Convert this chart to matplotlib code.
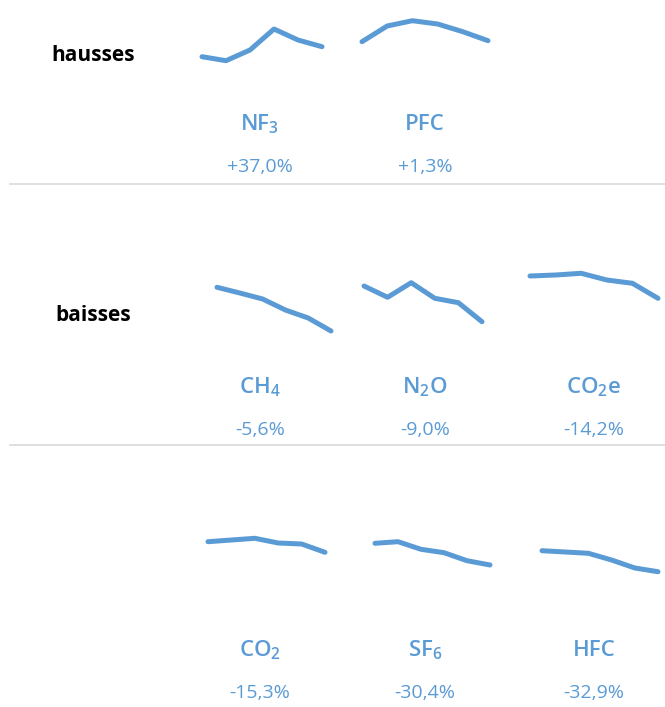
import matplotlib
matplotlib.use('Agg')
import matplotlib.pyplot as plt
from matplotlib.lines import Line2D

plt.rcParams['font.family'] = ['Open Sans', 'DejaVu Sans']
plt.rcParams['mathtext.fontset'] = 'custom'
plt.rcParams['mathtext.rm'] = 'Open Sans'
plt.rcParams['mathtext.bf'] = 'Open Sans:semibold'
plt.rcParams['mathtext.default'] = 'regular'

# gases, in reading order (rows of 3 cells)
gases = ['NF$_3$', 'PFC', 'CH$_4$', 'N$_2$O', 'CO$_2$e', 'CO$_2$', 'SF$_6$', 'HFC']
changes = [37.0, 1.3, -5.6, -9.0, -14.2, -15.3, -30.4, -32.9]
group_labels = ['hausses', 'baisses', '']

# sparkline values (6 points each, arbitrary units)
nf3 = [23.3, 19.3, 30.0, 51.0, 40.0, 33.3]
pfc = [38.3, 54.0, 59.3, 56.0, 48.3, 39.3]
ch4 = [52.7, 47.0, 41.0, 30.0, 22.0, 9.0]
n2o = [54.0, 42.7, 57.3, 41.7, 37.3, 18.3]
co2e = [64.0, 65.0, 66.7, 60.0, 56.7, 41.7]
co2 = [58.3, 60.0, 61.7, 57.0, 56.0, 47.7]
sf6 = [56.7, 58.3, 50.7, 47.3, 39.3, 35.0]
hfc = [49.3, 48.0, 46.7, 40.0, 32.0, 28.3]
series = [nf3, pfc, ch4, n2o, co2e, co2, sf6, hfc]

# (row, col) of each cell
cells = [(0, 0), (0, 1), (1, 0), (1, 1), (1, 2), (2, 0), (2, 1), (2, 2)]

W, H = 665, 707
blue = '#5B9BD5'
txt_blue = '#5B9BD5'

fig = plt.figure(figsize=(W / 100, H / 100), dpi=100)

def px_axes(left, top, width, height):
    return fig.add_axes([left / W, 1 - (top + height) / H, width / W, height / H])

# horizontal extent of each sparkline in pixels (layout only)
spark_x = [(202, 322), (362, 488), (217, 331), (364, 482), (530, 658),
           (208, 325), (375, 490), (542, 658)]
row_top = [0, 260, 520]
col_center = [260, 425, 594]
box_h = 80

for i, (vals, (r, c)) in enumerate(zip(series, cells)):
    x0, x1 = spark_x[i]
    ax = px_axes(x0, row_top[r], x1 - x0, box_h)
    ax.plot(range(len(vals)), vals, color=blue, lw=3.6, solid_capstyle='round',
            solid_joinstyle='round', clip_on=False)
    ax.set_xlim(0, len(vals) - 1)
    ax.set_ylim(0, box_h)
    ax.axis('off')

    xc = col_center[c] / W
    base = [130, 393, 656][r]
    fig.text(xc, 1 - base / H, gases[i], ha='center', va='baseline',
             fontsize=16, color=txt_blue, fontweight='semibold')
    pct = ('%+.1f%%' % changes[i]).replace('.', ',')
    fig.text(xc, 1 - (base + 42) / H, pct, ha='center', va='baseline',
             fontsize=14, color=txt_blue)

# group labels
for r, lab in enumerate(group_labels):
    if lab:
        fig.text(93 / W, 1 - ([61, 321][r]) / H, lab, ha='center', va='baseline',
                 fontsize=15, fontweight='bold', color='black')

# separators
for y in [184, 445]:
    fig.add_artist(Line2D([10 / W, 1], [1 - y / H, 1 - y / H], color='#d9d9d9', lw=1.2))

plt.savefig('out.png', dpi=100)
